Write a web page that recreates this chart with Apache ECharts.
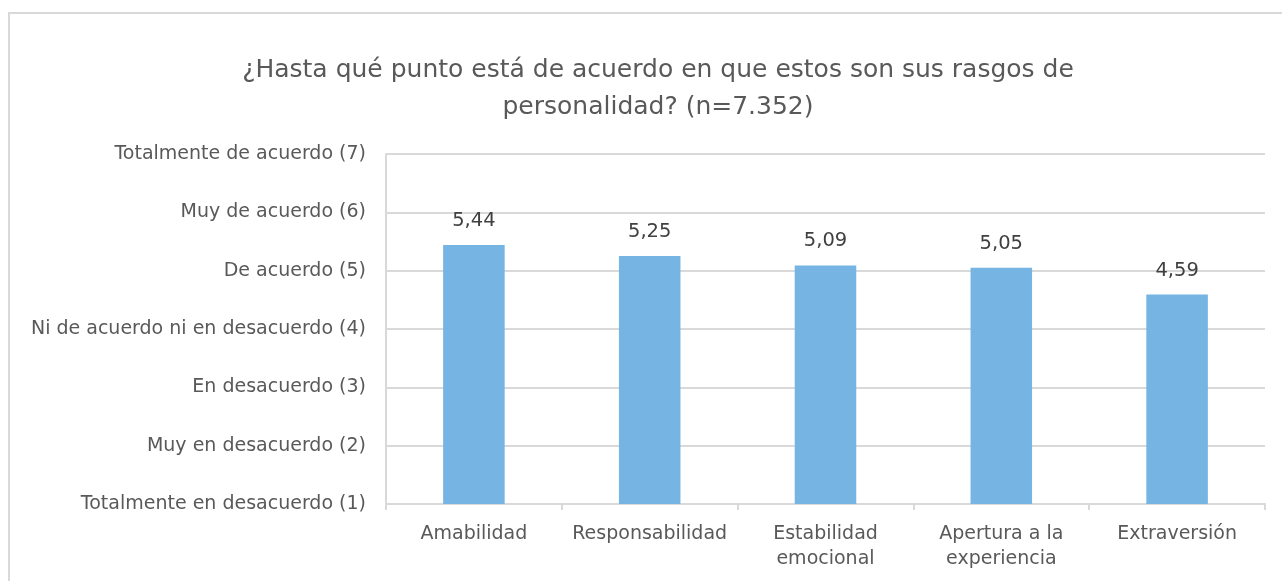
<!DOCTYPE html>
<html>
<head>
<meta charset="utf-8">
<script src="https://cdn.jsdelivr.net/npm/echarts@6/dist/echarts.min.js"></script>
<style>
  html, body { margin: 0; padding: 0; background: #fff; }
  #chart { width: 1282px; height: 581px; }
</style>
</head>
<body>
<div id="chart"></div>
<script>
var categories = ["Amabilidad", "Responsabilidad", "Estabilidad\nemocional", "Apertura a la\nexperiencia", "Extraversión"];
var values = [5.44, 5.25, 5.09, 5.05, 4.59];
var scaleLabels = {
  1: "Totalmente en desacuerdo (1)",
  2: "Muy en desacuerdo (2)",
  3: "En desacuerdo (3)",
  4: "Ni de acuerdo ni en desacuerdo (4)",
  5: "De acuerdo (5)",
  6: "Muy de acuerdo (6)",
  7: "Totalmente de acuerdo (7)"
};

var font = "'DejaVu Sans', sans-serif";
var myChart = echarts.init(document.getElementById("chart"));
myChart.setOption({
  animation: false,
  textStyle: { fontFamily: font },
  graphic: [{
    type: "rect",
    shape: { x: 9, y: 13, width: 1300, height: 600 },
    style: { fill: "none", stroke: "#d9d9d9", lineWidth: 2 },
    silent: true
  }],
  title: {
    text: "¿Hasta qué punto está de acuerdo en que estos son sus rasgos de\npersonalidad? (n=7.352)",
    left: 653,
    top: 47,
    textAlign: "center",
    textStyle: { color: "#595959", fontSize: 25, fontWeight: "normal", lineHeight: 37, fontFamily: font }
  },
  grid: { left: 386, right: 17, top: 154, bottom: 77 },
  xAxis: {
    type: "category",
    data: categories,
    axisLine: { lineStyle: { color: "#d9d9d9", width: 2 } },
    axisTick: { show: true, length: 6, lineStyle: { color: "#d9d9d9", width: 2 } },
    axisLabel: { color: "#595959", fontSize: 19, margin: 18, lineHeight: 25, interval: 0 }
  },
  yAxis: {
    type: "value",
    min: 1,
    max: 7,
    interval: 1,
    axisLine: { show: true, lineStyle: { color: "#d9d9d9", width: 2 } },
    axisTick: { show: false },
    splitLine: { lineStyle: { color: "#d9d9d9", width: 2 } },
    axisLabel: {
      color: "#595959",
      fontSize: 19,
      margin: 20,
      formatter: function (v) { return scaleLabels[v] || ""; }
    }
  },
  series: [{
    type: "bar",
    data: values,
    barWidth: "35%",
    itemStyle: { color: "#75b4e3" },
    label: {
      show: true,
      position: "top",
      distance: 14,
      color: "#404040",
      fontSize: 19.5,
      fontFamily: font,
      formatter: function (p) { return p.value.toFixed(2).replace(".", ","); }
    }
  }]
});
</script>
</body>
</html>
